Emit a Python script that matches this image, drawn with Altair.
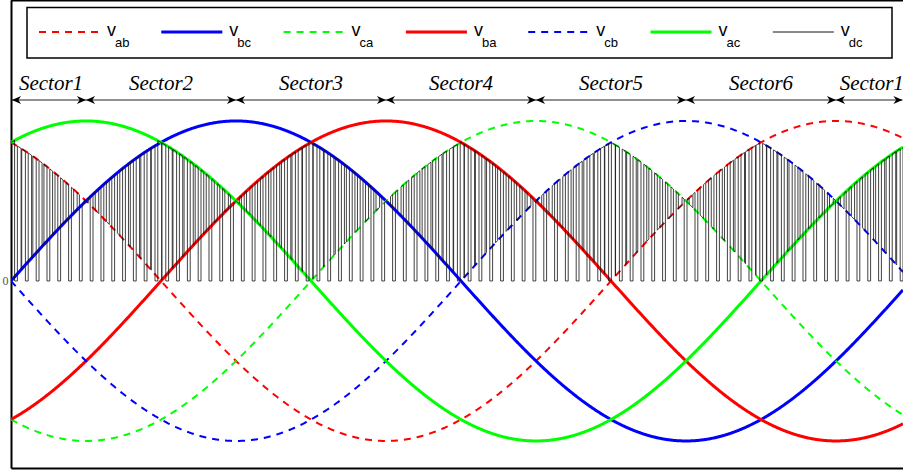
import numpy as np
import pandas as pd
import altair as alt

# ---- line-to-line voltages (normalised peak = 1), angle in electrical degrees ----
series_keys = ["ab", "bc", "ca", "ba", "cb", "ac", "dc"]
series_colors = ["#ff0000", "#0000ff", "#00ff00", "#ff0000", "#0000ff", "#00ff00", "#000000"]
series_dashes = [[7, 6], [1, 0], [7, 6], [1, 0], [7, 6], [1, 0], [1, 0]]
series_widths = [2, 3, 2, 3, 2, 3, 1]
# phase of each line voltage relative to v_bc (deg); ring order = +60 deg steps
ring_keys = ["bc", "ac", "ab", "cb", "ca", "ba"]
ring_phase = [0, 60, 120, 180, 240, 300]
amplitude = 1.0
theta_max = 356.8

# ---- rectifier-stage PWM of the dc-link voltage ----
sw_period = 4.32        # deg per switching period
sw_first_zero = 2.0     # centre of the first zero-vector interval (deg)
zero_share = 0.26       # share of each period spent at zero

# ---- sectors ----
sector_edges = [-30, 30, 90, 150, 210, 270, 330, 390]
sector_names = ["Sector1", "Sector2", "Sector3", "Sector4", "Sector5", "Sector6", "Sector1"]
sector_label_theta = [16, 60, 120, 180, 240, 300, 344.3]

phase_of = dict(zip(ring_keys, ring_phase))


def line_v(key, th):
    return amplitude * np.sin(np.radians(np.asarray(th) + phase_of[key]))


# sinusoid table
theta = np.arange(0, theta_max + 0.001, 0.4)
curve_df = pd.concat(
    [pd.DataFrame({"theta": theta, "v": line_v(k, theta), "s": k}) for k in series_keys[:6]],
    ignore_index=True,
)

# dc-link pulse train: zero -> larger component -> smaller -> larger -> zero
pts = []
zl = zero_share * sw_period
act = sw_period - zl
for n in range(-1, int(theta_max / sw_period) + 2):
    zc = sw_first_zero + n * sw_period
    s = zc + zl / 2
    e = s + act
    m = (s + e) / 2
    k = next(i for i in range(6) if ((m + ring_phase[i] - 60) % 360) < 60)
    ka, kb = ring_keys[k - 1], ring_keys[(k + 1) % 6]
    va, vb = float(line_v(ka, m)), float(line_v(kb, m))
    outer, inner = (ka, kb) if va >= vb else (kb, ka)
    vin = min(va, vb)
    d_in = act * vin / (va + vb)
    h = (act - d_in) / 2
    t1, t2 = s + h, s + h + d_in
    seq = [
        (s, 0.0), (s, line_v(outer, s)), (t1, line_v(outer, t1)),
        (t1, line_v(inner, t1)), (t2, line_v(inner, t2)),
        (t2, line_v(outer, t2)), (e, line_v(outer, e)), (e, 0.0),
    ]
    pts.extend(seq)
vdc_df = pd.DataFrame({"theta": [p[0] for p in pts], "v": [float(p[1]) for p in pts]})
vdc_df["i"] = np.arange(len(vdc_df))

# ---- scales / axes ----
x_scale = alt.Scale(domain=[0, theta_max], nice=False, zero=False)
y_scale = alt.Scale(domain=[-1.169, 1.756], nice=False, zero=False)
X = alt.X("theta:Q", scale=x_scale,
          axis=alt.Axis(title=None, labels=False, ticks=False, grid=False,
                        domainColor="black", domainWidth=2))
Y = alt.Y("v:Q", scale=y_scale,
          axis=alt.Axis(title=None, values=[0], ticks=False, grid=False,
                        labelColor="#555555", labelFontSize=12, labelPadding=3,
                        labelFont="Liberation Serif",
                        domainColor="black", domainWidth=2))

layers = []
for key, col, dash, w in zip(series_keys[:6], series_colors, series_dashes, series_widths):
    layers.append(
        alt.Chart(curve_df).transform_filter(alt.datum.s == key)
        .mark_line(color=col, strokeDash=dash, strokeWidth=w, clip=True)
        .encode(x=X, y=Y)
    )

layers.append(
    alt.Chart(vdc_df).mark_line(color="#111111", strokeWidth=0.8, clip=True)
    .encode(x=X, y=Y, order="i:Q")
)

# ---- sector arrows ----
edges = np.clip(sector_edges, 0.4, theta_max - 0.2)
arrow_df = pd.DataFrame({"theta": edges[:-1], "theta2": edges[1:]})
layers.append(
    alt.Chart(arrow_df).mark_rule(color="#222222", strokeWidth=1)
    .encode(x=X, x2="theta2:Q", y=alt.value(100))
)
head_l = pd.DataFrame({"theta": edges[:-1]})
head_r = pd.DataFrame({"theta": edges[1:]})
layers.append(
    alt.Chart(head_l).mark_point(shape="M0,0 L1,-0.45 L0.7,0 L1,0.45 Z", filled=True,
                                 size=330, color="black", opacity=1, strokeWidth=0)
    .encode(x=X, y=alt.value(100))
)
layers.append(
    alt.Chart(head_r).mark_point(shape="M0,0 L-1,-0.45 L-0.7,0 L-1,0.45 Z", filled=True,
                                 size=330, color="black", opacity=1, strokeWidth=0)
    .encode(x=X, y=alt.value(100))
)
sector_df = pd.DataFrame({"theta": sector_label_theta, "name": sector_names})
layers.append(
    alt.Chart(sector_df).mark_text(font="Liberation Serif", fontStyle="italic", fontSize=21,
                                   baseline="alphabetic", align="center", color="black")
    .encode(x=X, y=alt.value(90), text="name:N")
)

# ---- frame top edge ----
one = pd.DataFrame({"a": [0]})
layers.append(
    alt.Chart(one).mark_rule(color="black", strokeWidth=1.5)
    .encode(x=alt.value(0), x2=alt.value(892), y=alt.value(0.75))
)

# ---- legend ----
leg_x0, leg_step, leg_len = 28, 122.3, 61
legend_df = pd.DataFrame({
    "s": series_keys,
    "lx": [leg_x0 + leg_step * i for i in range(7)],
})
legend_df["lx2"] = legend_df["lx"] + leg_len
legend_df["tx"] = legend_df["lx"] + 68
legend_df["sx"] = legend_df["lx"] + 76
legend_df["w"] = series_widths
legend_df["v"] = "v"

layers.append(
    alt.Chart(one).mark_rect(fill="white", stroke="black", strokeWidth=1.5)
    .encode(x=alt.value(16), x2=alt.value(881), y=alt.value(7.5), y2=alt.value(58))
)
layers.append(
    alt.Chart(legend_df).mark_rule()
    .encode(
        x=alt.X("lx:Q", scale=None), x2="lx2:Q", y=alt.value(32),
        color=alt.Color("s:N", scale=alt.Scale(domain=series_keys, range=series_colors), legend=None),
        strokeDash=alt.StrokeDash("s:N", scale=alt.Scale(domain=series_keys, range=series_dashes), legend=None),
        strokeWidth=alt.StrokeWidth("w:Q", scale=None),
    )
)
layers.append(
    alt.Chart(legend_df).mark_text(font="Liberation Sans", fontSize=18, align="left",
                                   baseline="alphabetic", color="black")
    .encode(x=alt.X("tx:Q", scale=None), y=alt.value(36), text="v:N")
)
layers.append(
    alt.Chart(legend_df).mark_text(font="Liberation Sans", fontSize=13, align="left",
                                   baseline="alphabetic", color="black")
    .encode(x=alt.X("sx:Q", scale=None), y=alt.value(47), text="s:N")
)

chart = (
    alt.layer(*layers)
    .properties(width=892, height=468, autosize=alt.AutoSizeParams(type="none"),
                padding={"left": 11, "top": 0, "right": 0, "bottom": 4})
    .configure_view(stroke=None)
    .configure(background="white")
)

chart.save("out.html", embed_options={"renderer": "svg", "actions": False})
